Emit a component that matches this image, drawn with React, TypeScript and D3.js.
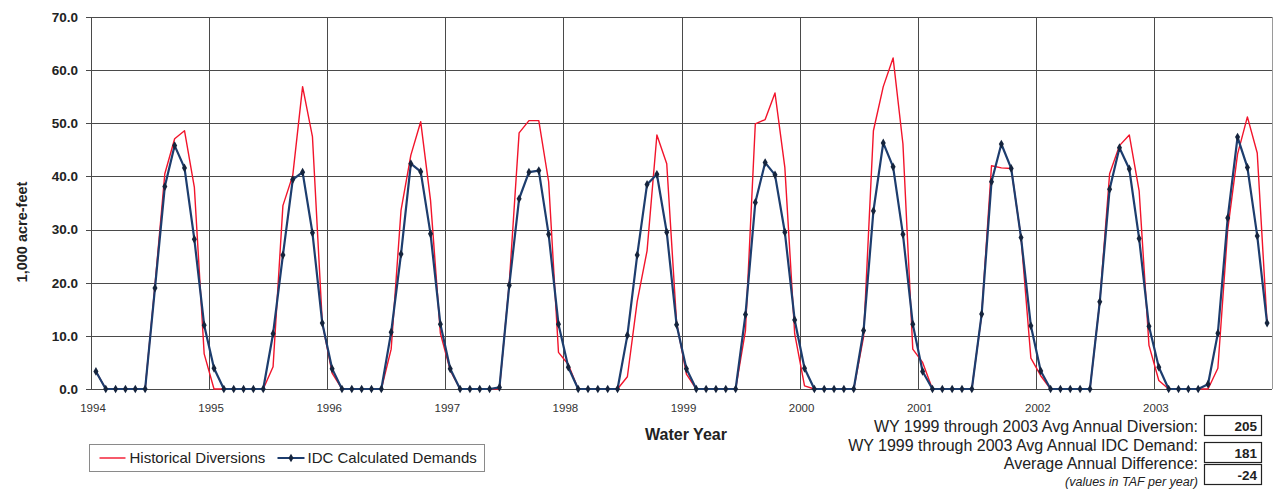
import React, { useRef, useEffect } from 'react';
import * as d3 from 'd3';

// monthly values, water years 1994-2003 (Oct..Sep), 1,000 acre-feet
const historicalDiversions = [
  3.3, 0, 0, 0, 0, 0, 19.5, 40.5, 47.1, 48.6, 38.0, 6.6,
  0, 0, 0, 0, 0, 0, 4.2, 34.5, 40.2, 56.9, 47.5, 12.5,
  3.0, 0, 0, 0, 0, 0, 7.5, 33.6, 44.0, 50.3, 35.5, 10.5,
  3.5, 0, 0, 0, 0, 0, 20.0, 48.2, 50.5, 50.5, 39.0, 6.9,
  4.6, 0, 0, 0, 0, 0, 2.3, 16.5, 26.0, 47.8, 42.4, 12.5,
  2.8, 0, 0, 0, 0, 0, 11.0, 49.9, 50.7, 55.7, 41.7, 10.4,
  0.6, 0, 0, 0, 0, 0, 9.8, 48.6, 56.9, 62.3, 46.1, 7.5,
  5.0, 0, 0, 0, 0, 0, 14.0, 42.0, 41.6, 41.5, 28.5, 5.8,
  2.5, 0, 0, 0, 0, 0, 16.4, 40.5, 45.8, 47.8, 37.3, 8.2,
  1.6, 0, 0, 0, 0, 0, 3.9, 30.0, 44.2, 51.2, 44.4, 12.3
];

const idcDemands = [
  3.3, 0, 0, 0, 0, 0, 19.0, 38.1, 45.8, 41.6, 28.2, 12.0,
  3.9, 0, 0, 0, 0, 0, 10.4, 25.2, 39.4, 40.8, 29.4, 12.4,
  3.8, 0, 0, 0, 0, 0, 10.7, 25.4, 42.4, 40.9, 29.2, 12.2,
  3.8, 0, 0, 0, 0, 0.3, 19.5, 35.8, 40.8, 41.1, 29.1, 12.2,
  4.1, 0, 0, 0, 0, 0, 10.1, 25.2, 38.5, 40.4, 29.5, 12.1,
  3.8, 0, 0, 0, 0, 0, 14.0, 35.1, 42.6, 40.3, 29.5, 13.0,
  3.9, 0, 0, 0, 0, 0, 11.0, 33.5, 46.3, 41.8, 29.1, 12.2,
  3.3, 0, 0, 0, 0, 0, 14.1, 39.0, 46.1, 41.5, 28.5, 11.9,
  3.4, 0, 0, 0, 0, 0, 16.4, 37.6, 45.4, 41.4, 28.3, 11.8,
  4.1, 0, 0, 0, 0, 0.9, 10.5, 32.2, 47.4, 41.7, 28.8, 12.4
];

const yearTicks = [1994, 1995, 1996, 1997, 1998, 1999, 2000, 2001, 2002, 2003];
const yTicks = [0, 10, 20, 30, 40, 50, 60, 70];

const summaryLabels = [
  'WY 1999 through 2003 Avg Annual Diversion:',
  'WY 1999 through 2003 Avg Annual IDC Demand:',
  'Average Annual Difference:'
];
const summaryValues = [205, 181, -24];

const FONT = 'Arial, "Liberation Sans", Helvetica, sans-serif';

const WaterChart = () => {
  const ref = useRef(null);

  useEffect(() => {
    if (!ref.current) return;
    const svg = d3.select(ref.current);
    svg.selectAll('*').remove();

    const margin = { top: 17, right: 7, bottom: 105, left: 91 };
    const width = 1279;
    const height = 494;
    const plotW = width - margin.left - margin.right;
    const plotH = height - margin.top - margin.bottom;

    const x = d3.scaleLinear().domain([1994, 2004]).range([0, plotW]);
    const y = d3.scaleLinear().domain([0, 70]).range([plotH, 0]);
    const monthX = (i) => x(1994 + (i + 0.5) / 12);

    const g = svg
      .append('g')
      .attr('transform', `translate(${margin.left}, ${margin.top})`);

    // grid
    const grid = g.append('g').attr('stroke', '#4a4a4a').attr('stroke-width', 1);
    grid
      .selectAll('line.h')
      .data(yTicks)
      .enter()
      .append('line')
      .attr('x1', 0)
      .attr('x2', plotW)
      .attr('y1', (d) => Math.round(y(d)) + 0.5)
      .attr('y2', (d) => Math.round(y(d)) + 0.5);
    grid
      .selectAll('line.v')
      .data(yearTicks.concat([2004]))
      .enter()
      .append('line')
      .attr('x1', (d) => Math.round(x(d)) + 0.5)
      .attr('x2', (d) => Math.round(x(d)) + 0.5)
      .attr('y1', 0)
      .attr('y2', plotH)
      .attr('stroke', (d) => (d === 2004 ? '#9a9a9a' : null));

    // y axis ticks and labels
    g.append('g')
      .selectAll('line')
      .data(yTicks)
      .enter()
      .append('line')
      .attr('x1', -5)
      .attr('x2', 0)
      .attr('y1', (d) => Math.round(y(d)) + 0.5)
      .attr('y2', (d) => Math.round(y(d)) + 0.5)
      .attr('stroke', '#4a4a4a');
    g.append('g')
      .selectAll('text')
      .data(yTicks)
      .enter()
      .append('text')
      .attr('x', -13)
      .attr('y', (d) => y(d))
      .attr('dy', '0.36em')
      .attr('text-anchor', 'end')
      .attr('font-family', FONT)
      .attr('font-weight', 'bold')
      .attr('font-size', 13.5)
      .attr('fill', '#222')
      .text((d) => d3.format('.1f')(d));

    // x labels
    g.append('g')
      .selectAll('text')
      .data(yearTicks)
      .enter()
      .append('text')
      .attr('x', (d) => x(d) + 2)
      .attr('y', plotH + 23)
      .attr('text-anchor', 'middle')
      .attr('font-family', FONT)
      .attr('font-size', 11.5)
      .attr('fill', '#333')
      .text((d) => d);

    // series
    const lineGen = d3
      .line()
      .x((d, i) => monthX(i))
      .y((d) => y(d));

    g.append('path')
      .datum(historicalDiversions)
      .attr('d', lineGen)
      .attr('fill', 'none')
      .attr('stroke', '#f2142b')
      .attr('stroke-width', 1.4)
      .attr('stroke-linejoin', 'round');

    g.append('path')
      .datum(idcDemands)
      .attr('d', lineGen)
      .attr('fill', 'none')
      .attr('stroke', '#1d3d6e')
      .attr('stroke-width', 2.2)
      .attr('stroke-linejoin', 'round');

    const diamond = d3.symbol().type(d3.symbolDiamond).size(22);
    g.append('g')
      .selectAll('path')
      .data(idcDemands)
      .enter()
      .append('path')
      .attr('d', diamond)
      .attr('transform', (d, i) => `translate(${monthX(i)}, ${y(d)})`)
      .attr('fill', '#15243d');

    // axis titles
    svg
      .append('text')
      .attr('transform', `translate(22, 232) rotate(-90)`)
      .attr('dy', '0.35em')
      .attr('text-anchor', 'middle')
      .attr('font-family', FONT)
      .attr('font-weight', 'bold')
      .attr('font-size', 14.5)
      .attr('fill', '#222')
      .text('1,000 acre-feet');

    svg
      .append('text')
      .attr('x', 686)
      .attr('y', 440)
      .attr('text-anchor', 'middle')
      .attr('font-family', FONT)
      .attr('font-weight', 'bold')
      .attr('font-size', 16)
      .attr('fill', '#222')
      .text('Water Year');

    // legend
    const legend = svg.append('g').attr('transform', 'translate(89.5, 444.5)');
    legend
      .append('rect')
      .attr('width', 395)
      .attr('height', 27)
      .attr('fill', '#fff')
      .attr('stroke', '#8a8a8a');
    legend
      .append('line')
      .attr('x1', 10)
      .attr('x2', 36)
      .attr('y1', 13.5)
      .attr('y2', 13.5)
      .attr('stroke', '#f2142b')
      .attr('stroke-width', 1.4);
    legend
      .append('text')
      .attr('x', 40)
      .attr('y', 13.5)
      .attr('dy', '0.36em')
      .attr('font-family', FONT)
      .attr('font-size', 15)
      .attr('fill', '#222')
      .text('Historical Diversions');
    legend
      .append('line')
      .attr('x1', 188)
      .attr('x2', 215)
      .attr('y1', 13.5)
      .attr('y2', 13.5)
      .attr('stroke', '#1d3d6e')
      .attr('stroke-width', 2);
    legend
      .append('path')
      .attr('d', diamond)
      .attr('transform', 'translate(201.5, 13.5)')
      .attr('fill', '#15243d');
    legend
      .append('text')
      .attr('x', 218)
      .attr('y', 13.5)
      .attr('dy', '0.36em')
      .attr('font-family', FONT)
      .attr('font-size', 15)
      .attr('fill', '#222')
      .text('IDC Calculated Demands');

    // summary block
    const rowY = [426, 445, 463];
    const boxY = [415, 442, 464];
    const summary = svg.append('g');
    summary
      .selectAll('text.lbl')
      .data(summaryLabels)
      .enter()
      .append('text')
      .attr('x', 1198)
      .attr('y', (d, i) => rowY[i])
      .attr('dy', '0.36em')
      .attr('text-anchor', 'end')
      .attr('font-family', FONT)
      .attr('font-size', 16)
      .attr('fill', '#222')
      .text((d) => d);
    summary
      .append('text')
      .attr('x', 1198)
      .attr('y', 481)
      .attr('dy', '0.36em')
      .attr('text-anchor', 'end')
      .attr('font-family', FONT)
      .attr('font-style', 'italic')
      .attr('font-size', 12.5)
      .attr('fill', '#222')
      .text('(values in TAF per year)');
    summary
      .selectAll('rect')
      .data(summaryValues)
      .enter()
      .append('rect')
      .attr('x', 1204.5)
      .attr('y', (d, i) => boxY[i] + 0.5)
      .attr('width', 57)
      .attr('height', 20)
      .attr('fill', '#fff')
      .attr('stroke', '#222')
      .attr('stroke-width', 1.2);
    summary
      .selectAll('text.val')
      .data(summaryValues)
      .enter()
      .append('text')
      .attr('x', 1257)
      .attr('y', (d, i) => boxY[i] + 10.5)
      .attr('dy', '0.38em')
      .attr('text-anchor', 'end')
      .attr('font-family', FONT)
      .attr('font-weight', 'bold')
      .attr('font-size', 13.5)
      .attr('fill', '#222')
      .text((d) => d);
  }, []);

  return (
    <svg
      ref={ref}
      width={1279}
      height={494}
      style={{ position: 'absolute', left: 0, top: 0, background: '#fff' }}
    />
  );
};

export default function App() {
  return <WaterChart />;
}
